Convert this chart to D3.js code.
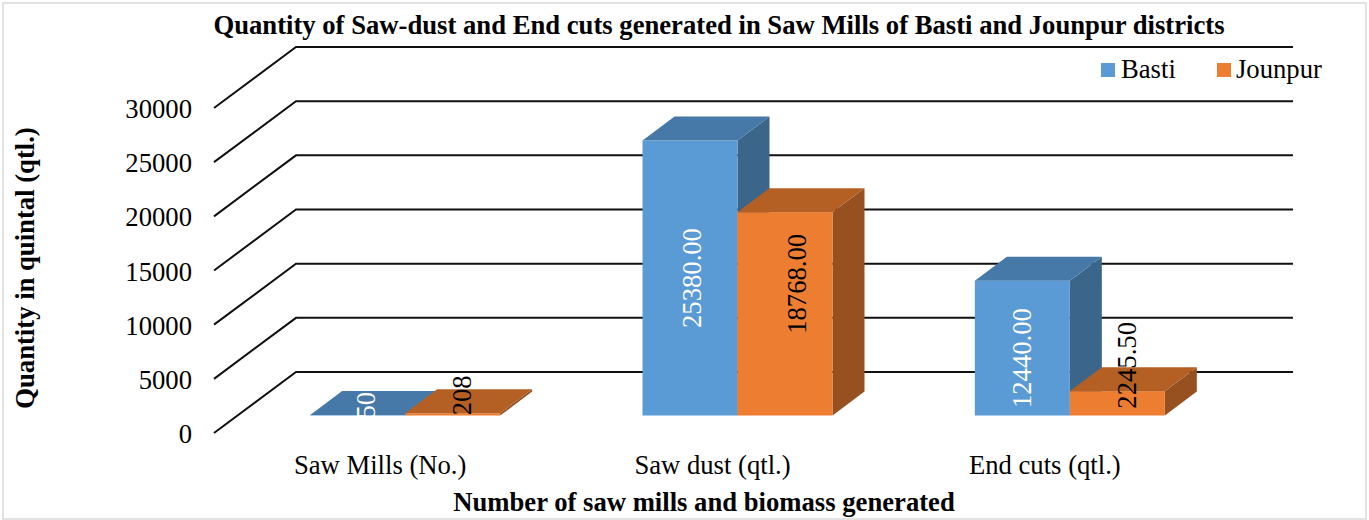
<!DOCTYPE html>
<html>
<head>
<meta charset="utf-8">
<script src="https://cdn.jsdelivr.net/npm/d3@7/dist/d3.min.js"></script>
<style>
html,body{margin:0;padding:0;background:#fff;}
svg{display:block;}
text{font-family:"Liberation Serif",serif;fill:#000;}
</style>
</head>
<body>
<svg id="chart" width="1369" height="520"></svg>
<script>
const categories = ["Saw Mills (No.)", "Saw dust (qtl.)", "End cuts (qtl.)"];
const seriesNames = ["Basti", "Jounpur"];
const basti = [50, 25380, 12440];
const jounpur = [208, 18768, 2245.5];
const bastiLabels = ["50", "25380.00", "12440.00"];
const jounpurLabels = ["208", "18768.00", "2245.50"];
const yTicks = [0, 5000, 10000, 15000, 20000, 25000, 30000];
const titleText = "Quantity of Saw-dust and End cuts generated in Saw Mills of Basti and Jounpur districts";
const yTitle = "Quantity in quintal (qtl.)";
const xTitle = "Number of saw mills and biomass generated";

const W = 1369, H = 520, FS = 26.67;
const svg = d3.select("#chart");

// frame
svg.append("rect").attr("x",3).attr("y",3).attr("width",W-6).attr("height",H-4)
  .attr("fill","#fff").attr("stroke","#d9d9d9").attr("stroke-width",1.5);

// oblique projection
const wallDX = 82, wallDY = -61;          // floor depth
const barShiftX = 25, barShiftY = -17.5;  // bar front face relative to floor front
const barDX = 32, barDY = -24;            // bar depth

const y = d3.scaleLinear().domain([0,30000]).range([433,108]);
const x0 = d3.scaleBand().domain(categories).range([214,1211]);
const x1 = d3.scaleBand().domain(seriesNames).range([0,190]);
const catPad = (x0.bandwidth()-190)/2;

// walls
const grid = svg.append("g");
yTicks.forEach(t=>{
  grid.append("path")
    .attr("d", d3.line()([[214,y(t)],[214+wallDX,y(t)+wallDY],[1293,y(t)+wallDY]]))
    .attr("fill","none").attr("stroke","#111").attr("stroke-width",2);
});

// y axis
const yAxis = svg.append("g").attr("transform","translate(196,1)")
  .call(d3.axisLeft(y).tickValues(yTicks).tickSize(0).tickPadding(4).tickFormat(d3.format("d")));
yAxis.select(".domain").remove();
yAxis.selectAll("text").style("font-family",'"Liberation Serif",serif').style("font-size",FS+"px").attr("fill","#000");

// bars
const palette = {
  Basti:{front:"#5B9BD5",top:"#4679A8",side:"#3B6589"},
  Jounpur:{front:"#ED7D31",top:"#B46024",side:"#97501F"}
};
const values = {Basti:basti, Jounpur:jounpur};
const bars = svg.append("g");
const poly = pts => pts.map(p=>p.join(",")).join(" ");
categories.forEach((c,i)=>{
  seriesNames.forEach(s=>{
    const v = values[s][i];
    const xl = x0(c)+catPad+x1(s)+barShiftX, xr = xl+x1.bandwidth();
    const yb = y(0)+barShiftY, yt = y(v)+barShiftY;
    const col = palette[s];
    bars.append("polygon").attr("fill",col.side)
      .attr("points",poly([[xr,yt],[xr+barDX,yt+barDY],[xr+barDX,yb+barDY],[xr,yb]]));
    bars.append("rect").attr("x",xl).attr("y",yt).attr("width",xr-xl).attr("height",yb-yt).attr("fill",col.front);
    bars.append("polygon").attr("fill",col.top)
      .attr("points",poly([[xl,yt],[xl+barDX,yt+barDY],[xr+barDX,yt+barDY],[xr,yt]]));
  });
});

// rotated value labels: shifts from the front-face centre, as placed in the original
const labelShift = {
  Basti:[[8,-10],[2,0],[0,10]],
  Jounpur:[[9,-19],[11.5,-30],[10,-38]]
};
const labelColour = {Basti:"#fff", Jounpur:"#000"};
const labelText = {Basti:bastiLabels, Jounpur:jounpurLabels};
const labels = svg.append("g");
categories.forEach((c,i)=>{
  seriesNames.forEach(s=>{
    const v = values[s][i];
    const cx = x0(c)+catPad+x1(s)+barShiftX+x1.bandwidth()/2+labelShift[s][i][0];
    const cy = (y(0)+y(v))/2+barShiftY+labelShift[s][i][1];
    labels.append("text")
      .attr("transform",`translate(${cx},${cy}) rotate(-90)`)
      .attr("text-anchor","middle").attr("dominant-baseline","central")
      .attr("font-size",FS).style("fill",labelColour[s])
      .text(labelText[s][i]);
  });
});

// category labels
svg.append("g").selectAll("text").data(categories).join("text")
  .attr("x",d=>x0(d)+x0.bandwidth()/2).attr("y",474)
  .attr("text-anchor","middle").attr("font-size",FS).text(d=>d);

// titles
svg.append("text").attr("x",719).attr("y",34).attr("text-anchor","middle")
  .attr("font-size",FS).attr("font-weight","bold").text(titleText);
svg.append("text").attr("x",704).attr("y",511).attr("text-anchor","middle")
  .attr("font-size",FS).attr("font-weight","bold").text(xTitle);
svg.append("text").attr("transform","translate(34,268) rotate(-90)").attr("text-anchor","middle")
  .attr("font-size",FS).attr("font-weight","bold").text(yTitle);

// legend
const legendX = [1101,1217], legendTextX = [1121,1236];
seriesNames.forEach((s,i)=>{
  svg.append("rect").attr("x",legendX[i]).attr("y",63).attr("width",14).attr("height",14).attr("fill",palette[s].front);
  svg.append("text").attr("x",legendTextX[i]).attr("y",78).attr("font-size",FS).text(s);
});
</script>
</body>
</html>
